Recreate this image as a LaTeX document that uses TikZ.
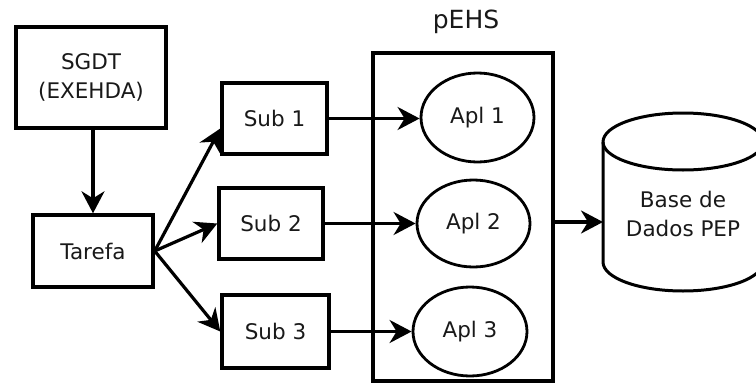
\documentclass[tikz,border=0pt]{standalone}
\usepackage{fontspec}
\setmainfont{DejaVu Sans}
\usetikzlibrary{arrows.meta,calc,shapes.geometric}

\begin{document}
\begin{tikzpicture}[x=1pt,y=-1pt,
  every node/.style={font=\fontsize{21.5}{29.5}\selectfont, text=black!90, inner sep=0pt},
  box/.style={draw=black, line width=3.4pt, align=center},
  apl/.style={draw=black, line width=2.8pt, ellipse},
  arr/.style={line width=3.2pt, -{Stealth[length=22pt,width=23pt,inset=7pt]}},
]
\useasboundingbox (0,0) rectangle (756,383);

% task manager and task
\node[box, minimum width=150pt, minimum height=101pt] (sgdt) at (91,77.5) {SGDT\\(EXEHDA)};
\node[box, minimum width=120pt, minimum height=72pt] (tarefa) at (93,251) {Tarefa};

% subtasks
\node[box, minimum width=105pt, minimum height=71pt] (s1) at (274.5,118.5) {Sub 1};
\node[box, minimum width=104pt, minimum height=71pt] (s2) at (271,223.5) {Sub 2};
\node[box, minimum width=107pt, minimum height=73pt] (s3) at (275.5,331.5) {Sub 3};

% pEHS container with its applications
\node[box, minimum width=180pt, minimum height=328pt] (pehs) at (463,217) {};
\node[font=\fontsize{25}{30}\selectfont] (pehslabel) at (466,22) {pEHS};
\node[apl, minimum width=113pt, minimum height=89pt] (a1) at (477.5,117.5) {Apl 1};
\node[apl, minimum width=113pt, minimum height=87pt] (a2) at (473.5,223.5) {Apl 2};
\node[apl, minimum width=114pt, minimum height=89pt] (a3) at (470,331.5) {Apl 3};

% database cylinder
\begin{scope}
  \clip (0,0) rectangle (756,383);
  \draw[line width=3pt]
    (603,262) -- (603,142)
    arc[start angle=180, end angle=360, x radius=80, y radius=29]
    -- (763,262)
    arc[start angle=0, end angle=180, x radius=80, y radius=29];
  \draw[line width=3pt]
    (603,142) arc[start angle=180, end angle=0, x radius=80, y radius=28];
\end{scope}
\coordinate (dbw) at (603,222);
\node[align=center] (db) at (683,214) {Base de\\Dados PEP};

% connectors
\draw[arr] (sgdt.south -| tarefa.north) -- (tarefa.north);
\draw[arr] (tarefa.east) -- ($(s1.west)+(0,10)$);
\draw[arr] (tarefa.east) -- (s2.west);
\draw[arr] (tarefa.east) -- (s3.west);
\draw[arr] (s1.east) -- (s1.east -| a1.west);
\draw[arr] (s2.east) -- (s2.east -| a2.west);
\draw[arr] (s3.east) -- (s3.east -| a3.west);
\draw[arr] (dbw -| pehs.east) -- (dbw);
\end{tikzpicture}
\end{document}
